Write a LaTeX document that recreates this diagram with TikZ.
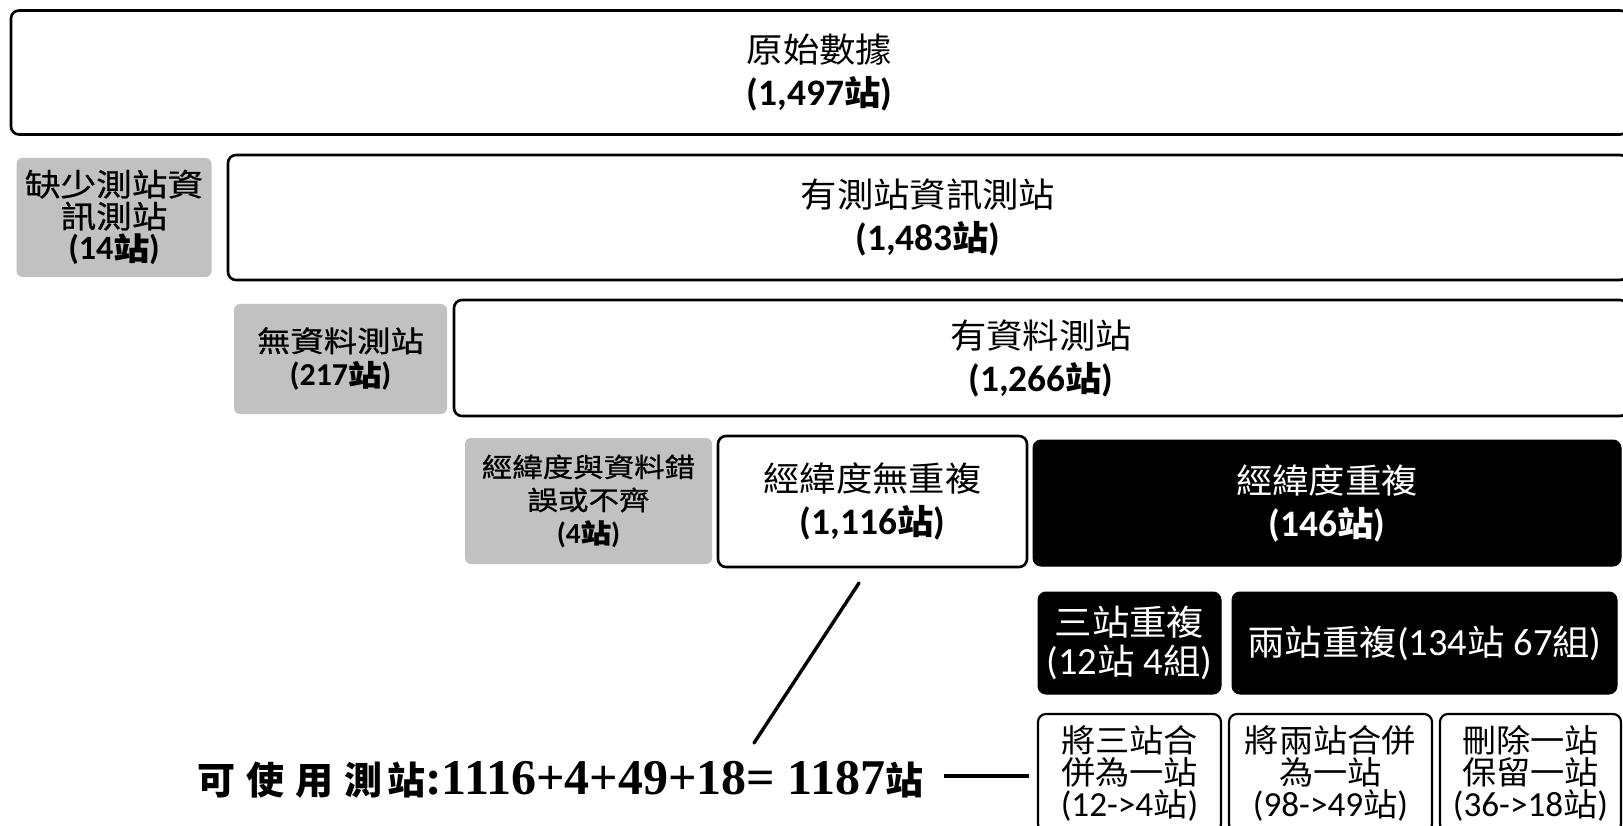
\documentclass[tikz,border=0pt]{standalone}
\usepackage{fontspec}
\setmainfont{Liberation Serif}
\newfontfamily\cjk[FakeStretch=1.07]{Noto Sans CJK TC}
\newfontfamily\cjkm[FakeStretch=1.15,FakeBold=0.8]{Noto Sans CJK TC}
\newfontfamily\cjkb{Noto Sans CJK TC}
\newfontfamily\lat[Scale=1.1]{Carlito}
\newfontfamily\serifb{Liberation Serif}
\newcommand\lt[1]{{\lat #1}}
\newcommand\cnt[1]{{\bfseries\lt{(#1}站\lt{)}}}
\definecolor{boxgray}{RGB}{193,193,193}
\tikzset{
  base/.style={inner sep=0pt, align=center, rounded corners=8pt},
  whitebox/.style={base, draw=black, line width=2.6pt, fill=white,
    font=\cjk\fontsize{34}{43}\selectfont},
  graybox/.style={base, fill=boxgray, draw=none, rounded corners=6pt,
    font=\cjkm\fontsize{31}{32}\selectfont},
  blackbox/.style={base, fill=black, draw=black, line width=1pt, text=white,
    font=\cjk\fontsize{34}{43}\selectfont},
  smallwhite/.style={whitebox, line width=2.2pt, font=\cjk\fontsize{32}{32}\selectfont},
  link/.style={line width=3.4pt, line cap=round}
}
\begin{document}
\begin{tikzpicture}[x=1pt,y=-1pt]
\useasboundingbox (0,0) rectangle (1623,826);
% top level
\node[whitebox, minimum width=1617pt, minimum height=124pt] (raw) at (819.5,72.5)
  {原始數據\\\cnt{1,497}};
% second level
\node[graybox, minimum width=195pt, minimum height=119pt] (miss) at (114,217.5)
  {缺少測站資\\訊測站\\\cnt{14}};
\node[whitebox, minimum width=1400pt, minimum height=125pt] (info) at (928,217.5)
  {有測站資訊測站\\\cnt{1,483}};
% third level
\node[graybox, font=\cjkm\fontsize{29}{34}\selectfont, minimum width=213pt, minimum height=110pt] (nodata) at (340.5,359)
  {無資料測站\\\cnt{217}};
\node[whitebox, minimum width=1174pt, minimum height=116pt] (data) at (1041,358)
  {有資料測站\\\cnt{1,266}};
% fourth level
\node[graybox, font=\cjkm\fontsize{26.5}{33}\selectfont, minimum width=247pt, minimum height=126pt] (err) at (588.5,501)
  {經緯度與資料錯\\誤或不齊\\\cnt{4}};
\node[whitebox, minimum width=309pt, minimum height=131pt] (uniq) at (872.5,501.5)
  {經緯度無重複\\\cnt{1,116}};
\node[blackbox, minimum width=588pt, minimum height=126pt] (dup) at (1327,503)
  {經緯度重複\\\cnt{146}};
% fifth level
\node[blackbox, font=\cjk\fontsize{35}{39}\selectfont, minimum width=183pt, minimum height=102pt] (three) at (1129.5,643)
  {三站重複\\\lt{(12}站\lt{ 4}組\lt{)}};
\node[blackbox, font=\cjk\fontsize{35}{39}\selectfont, minimum width=385pt, minimum height=102pt] (two) at (1424.5,643)
  {兩站重複\lt{(134}站\lt{ 67}組\lt{)}};
% sixth level
\node[smallwhite, minimum width=183pt, minimum height=118pt] (merge3) at (1129.5,773)
  {將三站合\\併為一站\\\lt{(12->4}站\lt{)}};
\node[smallwhite, minimum width=203pt, minimum height=118pt] (merge2) at (1330.5,773)
  {將兩站合併\\為一站\\\lt{(98->49}站\lt{)}};
\node[smallwhite, minimum width=181pt, minimum height=118pt] (keep) at (1530.5,773)
  {刪除一站\\保留一站\\\lt{(36->18}站\lt{)}};
% result text
\node[inner sep=0pt, anchor=west] (total) at (197,780)
  {\cjkb\bfseries\fontsize{38}{40}\selectfont 可\hspace{11pt}使\hspace{11pt}用\hspace{11pt}測\hspace{5pt}站%
   {\serifb\bfseries\fontsize{50}{50}\selectfont :1116+4+49+18= 1187}站};
% connectors
\coordinate (d1) at (859,583);
\coordinate (d2) at (754,743);
\draw[link] (d1) -- (d2);
\coordinate (h1) at (944,776);
\coordinate (h2) at (1029,776);
\draw[line width=4.5pt] (h1) -- (h2);
\end{tikzpicture}
\end{document}
